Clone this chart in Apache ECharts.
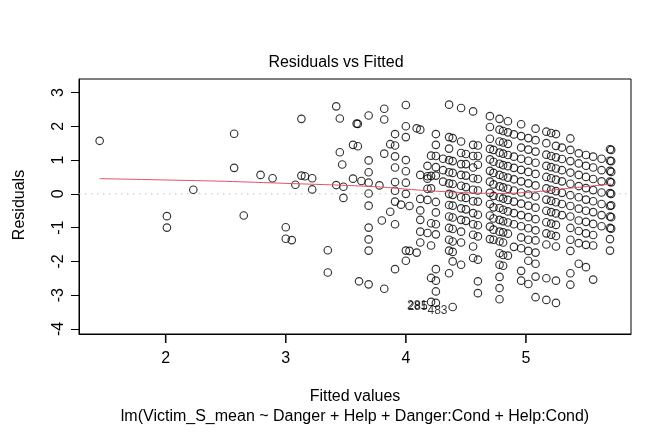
<!DOCTYPE html>
<html>
<head>
<meta charset="utf-8">
<script src="https://cdn.jsdelivr.net/npm/echarts@6/dist/echarts.min.js"></script>
<style>
html,body{margin:0;padding:0;background:#fff;}
#chart{width:672px;height:432px;}
</style>
</head>
<body>
<div id="chart"></div>
<script>
// ---- data ----
const xTicks = [2, 3, 4, 5];
const yTicks = [-4, -3, -2, -1, 0, 1, 2, 3];

// sparse points (fitted, residual) on the left / middle part
const sparsePoints = [
  [1.45, 1.57], [2.01, -0.66], [2.01, -1.00], [2.23, 0.12], [2.57, 1.78], [2.57, 0.77],
  [2.65, -0.64], [2.79, 0.56], [2.89, 0.46], [3.00, -0.99], [3.00, -1.33], [3.05, -1.37],
  [3.08, 0.27], [3.13, 2.22], [3.13, 0.54], [3.16, 0.52], [3.22, 0.46], [3.22, 0.13],
  [3.35, -1.67], [3.35, -2.33], [3.42, 2.59], [3.45, 2.23], [3.45, 1.23], [3.47, 0.87],
  [3.42, 0.26], [3.48, 0.21], [3.48, -0.12], [3.56, 1.45], [3.60, 1.41], [3.56, 0.45],
  [3.59, 2.08], [3.60, 2.07], [3.61, -2.59], [3.63, 0.38], [3.69, 2.32], [3.69, 0.99],
  [3.69, 0.64], [3.69, 0.33], [3.69, 0.01], [3.69, -0.35], [3.69, -1.00], [3.69, -1.35],
  [3.69, -1.68], [3.69, -2.68], [3.78, 0.25], [3.80, -0.79], [3.82, 2.52], [3.82, 2.20],
  [3.82, 1.19], [3.82, -2.81], [3.87, 1.47], [3.87, -0.53], [3.91, 1.77], [3.91, 1.43],
  [3.91, 1.11], [3.91, 0.78], [3.91, 0.35], [3.91, 0.09], [3.91, -0.23], [3.91, -0.90],
  [3.91, -2.23], [3.96, -0.32]
];

// dense area: fitted value of each column and its residuals
const columnFitted = [4.00, 4.03, 4.09, 4.12, 4.18, 4.21, 4.25, 4.31, 4.36, 4.39, 4.46, 4.50,
  4.56, 4.60, 4.70, 4.73, 4.78, 4.81, 4.85, 4.90, 4.96, 5.02, 5.08, 5.17, 5.21, 5.25, 5.30,
  5.37, 5.44, 5.50, 5.56, 5.63, 5.70, 5.71];
const columnResiduals = [
  [2.63, 2.00, 1.68, 1.00, 0.67, 0.33, 0.00, -1.68, -1.98],
  [-0.36, -1.69],
  [1.94, -1.74],
  [1.90, 0.56, -0.15, -0.49, -0.77, -1.12, -1.44],
  [0.83, 0.52, 0.45, 0.15, -0.18, -1.16],
  [1.13, 0.53, 0.16, -0.87, -1.53, -2.49, -3.20],
  [1.77, 1.45, 1.12, 0.79, 0.54, -0.24, -0.55, -0.90, -1.20, -2.23, -2.57, -2.89, -3.23],
  [1.04, 0.70, 0.36],
  [2.64, 1.68, 1.34, 1.00, 0.64, 0.31, 0.00, -0.33, -0.67, -1.01, -1.36, -1.68, -2.35],
  [1.65, 0.97, 0.62, 0.29, -0.03, -0.35, -0.70, -1.04, -1.41, -1.72, -2.00, -3.35],
  [2.54, 1.55, 1.21, 0.88, 0.56, 0.24, -0.10, -0.43, -0.77, -1.12, -1.44, -2.10],
  [1.18, 0.88, 0.54, 0.20, -0.12, -0.46, -0.80],
  [2.44, 1.45, 1.12, 0.78, 0.46, 0.12, -0.22, -0.57, -0.90, -1.21, -1.56, -1.90],
  [1.43, 1.12, 0.86, 0.44, 0.10, -0.23, -0.62, -0.93, -1.26, -1.95, -2.59, -2.94],
  [2.30, 1.98, 1.63, 1.33, 1.02, 0.68, 0.36, 0.03, -0.30, -0.64, -0.97, -1.34],
  [1.30, 0.95, 0.62, 0.28, -0.06, -0.40, -0.73, -1.06, -1.36],
  [2.22, 1.90, 1.55, 1.22, 0.89, 0.56, 0.22, -0.10, -0.42, -0.77, -1.12, -1.41, -1.76, -2.10, -2.46, -2.79, -3.12],
  [1.86, 1.52, 1.19, 0.85, 0.52, 0.19, -0.14, -0.47, -0.81, -1.14, -1.44, -1.81, -2.13],
  [2.15, 1.82, 1.48, 1.15, 0.82, 0.48, 0.15, -0.18, -0.52, -0.85, -1.18, -1.83],
  [1.76, 1.10, 0.77, 0.43, 0.10, -0.23, -0.57, -0.90, -1.57],
  [2.06, 1.71, 1.37, 1.04, 0.71, 0.37, 0.04, -0.29, -0.63, -0.96, -1.29, -1.61, -2.28, -2.57],
  [1.65, 1.31, 0.98, 0.65, 0.31, -0.02, -0.35, -0.69, -1.02, -1.36, -1.69, -1.98, -2.67],
  [1.93, 1.59, 1.25, 0.92, 0.59, 0.25, -0.08, -0.41, -0.75, -1.08, -1.38, -1.74, -2.07, -2.45, -3.06],
  [1.84, 1.50, 1.16, 0.83, 0.50, 0.16, -0.17, -0.50, -0.84, -1.17, -1.50, -2.50, -3.14],
  [1.80, 1.12, 0.79, 0.46, 0.12, -0.21, -0.54, -0.88, -1.21],
  [1.77, 1.42, 1.08, 0.75, 0.42, 0.08, -0.25, -0.58, -0.92, -1.25, -1.56, -2.57, -3.23],
  [1.37, 1.03, 0.70, 0.37, 0.03, -0.30, -0.63],
  [1.64, 1.30, 0.97, 0.63, 0.30, -0.04, -0.36, -0.67, -1.01, -1.36, -1.69, -2.35, -2.69],
  [1.20, 0.90, 0.56, 0.23, -0.10, -0.44, -0.79, -1.10, -1.46, -2.07],
  [1.15, 0.83, 0.50, 0.17, -0.17, -0.50, -0.83, -1.17, -1.51, -2.17],
  [1.10, 0.78, 0.44, 0.11, -0.22, -0.54, -0.89, -1.22, -1.53, -2.54],
  [1.04, 0.70, 0.37, 0.04, -0.30, -0.63, -0.96],
  [1.32, 0.98, 0.68, 0.36, 0.02, -0.36, -0.67, -1.01, -1.34, -1.68],
  [1.30, 0.97, 0.65, 0.34, 0.00, -0.34, -0.69, -1.03]
];

// labelled extreme observations
const idFitted = [4.21, 4.215, 4.38];
const idResid = [-3.20, -3.21, -3.35];
const idLabels = ['281', '285', '483'];

// smoother (red line)
const smoothFitted = [1.45, 2.0, 2.5, 3.0, 3.5, 3.8, 4.0, 4.2, 4.4, 4.6, 4.8, 5.0, 5.2, 5.4, 5.6, 5.71];
const smoothResid  = [0.45, 0.41, 0.37, 0.31, 0.25, 0.20, 0.14, 0.09, 0.05, 0.02, 0.01, 0.04, 0.10, 0.18, 0.25, 0.29];

const xMin = 1.278, xMax = 5.875, yMin = -4.15, yMax = 3.40;

// ---- build chart ----
const FONT = '"Liberation Sans", Arial, Helvetica, sans-serif';
const points = sparsePoints.slice();
columnFitted.forEach((f, i) => columnResiduals[i].forEach(r => points.push([f, r])));
const smoothData = smoothFitted.map((f, i) => [f, smoothResid[i]]);
const idData = idFitted.map((f, i) => ({ value: [f, idResid[i]], label: { formatter: idLabels[i] } }));

const chart = echarts.init(document.getElementById('chart'), null, { renderer: 'canvas' });
const option = {
  animation: false,
  backgroundColor: '#ffffff',
  textStyle: { fontFamily: FONT },
  grid: { left: 79, right: 41, top: 79, bottom: 98, show: true, borderColor: '#000', borderWidth: 1, backgroundColor: 'transparent' },
  xAxis: {
    type: 'value', min: xMin, max: xMax, position: 'bottom',
    axisLine: { show: true, onZero: false, lineStyle: { color: '#000', width: 1 } }, splitLine: { show: false },
    axisTick: { show: false },
    axisLabel: { customValues: xTicks, fontSize: 16, color: '#000', margin: 17, fontFamily: FONT }
  },
  yAxis: {
    type: 'value', min: yMin, max: yMax, position: 'left',
    axisLine: { show: true, onZero: false, lineStyle: { color: '#000', width: 1 } }, splitLine: { show: false },
    axisTick: { show: true, inside: false, length: 8, customValues: yTicks, lineStyle: { color: '#000', width: 1 } },
    axisLabel: { customValues: yTicks, fontSize: 16, color: '#000', margin: 12, rotate: 90, fontFamily: FONT }
  },
  series: [
    {
      type: 'line', data: [[xMin, 0], [xMax, 0]], symbol: 'none', silent: true,
      lineStyle: { color: '#BEBEBE', width: 1, type: [1.5, 4.5] }, z: 1
    },
    {
      type: 'scatter', data: points, symbol: 'circle', symbolSize: 7.5,
      itemStyle: { color: 'rgba(0,0,0,0)', borderColor: '#000', borderWidth: 1.15 }, z: 2
    },
    {
      type: 'line', data: smoothData, symbol: 'none', smooth: 0.3,
      lineStyle: { color: '#DF536B', width: 1 }, z: 3
    },
    {
      type: 'scatter', data: idData, symbolSize: 0, z: 4,
      label: { show: true, position: 'left', distance: 4, offset: [0, 4], fontSize: 12, color: '#000', fontFamily: FONT }
    }
  ],
  graphic: [
    { type: 'text', left: 'center', top: 55, style: { text: 'Residuals vs Fitted', fontSize: 16, fill: '#000', font: '16px ' + FONT }, x: -3 },
    { type: 'text', style: { text: 'Fitted values', x: 355, y: 397, textAlign: 'center', textVerticalAlign: 'middle', font: '16px ' + FONT, fill: '#000' } },
    { type: 'text', style: { text: 'lm(Victim_S_mean ~ Danger + Help + Danger:Cond + Help:Cond)', x: 355, y: 417, textAlign: 'center', textVerticalAlign: 'middle', font: '16px ' + FONT, fill: '#000' } },
    { type: 'text', x: 20, y: 205, rotation: Math.PI / 2, style: { text: 'Residuals', x: 0, y: 0, textAlign: 'center', textVerticalAlign: 'middle', font: '16px ' + FONT, fill: '#000' } }
  ]
};
chart.setOption(option);

// x-axis tick marks placed through the chart's own x scale
const tickGraphics = xTicks.map(v => {
  const p = chart.convertToPixel({ gridIndex: 0 }, [v, yMin]);
  return { type: 'rect', z: 100, silent: true,
    shape: { x: p[0] - 0.8, y: p[1], width: 1.6, height: 9 },
    style: { fill: '#111' } };
});
chart.setOption({ graphic: option.graphic.concat(tickGraphics) });
</script>
</body>
</html>
